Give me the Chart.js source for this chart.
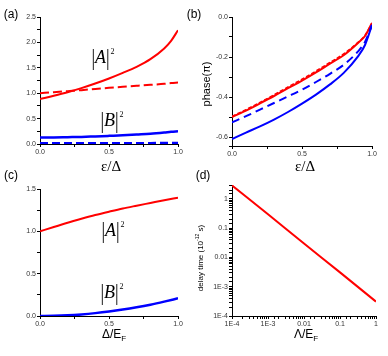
<!DOCTYPE html>
<html>
<head>
<meta charset="utf-8">
<script src="https://cdn.jsdelivr.net/npm/chart.js@4"></script>
<style>
  body { margin: 0; background: #fff; }
  #wrap { position: relative; width: 388px; height: 356px; overflow: hidden; font-family: Arial, "Liberation Sans", sans-serif; }
  canvas { position: absolute; left: 0; top: 0; }
  .t { position: absolute; white-space: nowrap; color: #000; line-height: 1; transform: translate(-50%, -50%); }
  .rot { transform: translate(-50%, -50%) rotate(-90deg); }
  .pl { font-size: 12px; }
  .serif { font-family: "Liberation Serif", "Times New Roman", serif; font-size: 15px; }
  .mod { font-family: "Liberation Serif", "Times New Roman", serif; font-size: 18px; }
  .mod .bar { display: inline-block; transform: scaleY(1.25); }
  .mod sup { font-size: 8px; vertical-align: 9px; margin-left: 1px; }
  sub { font-size: 8px; vertical-align: -3px; }
</style>
</head>
<body>
<div id="wrap">
  <canvas id="gA" width="388" height="356"></canvas>
  <canvas id="gB" width="388" height="356"></canvas>
  <canvas id="gC" width="388" height="356"></canvas>
  <canvas id="gD" width="388" height="356"></canvas>

  <div class="t pl" style="left:11px;top:14px">(a)</div>
  <div class="t pl" style="left:194px;top:14px">(b)</div>
  <div class="t pl" style="left:11px;top:175px">(c)</div>
  <div class="t pl" style="left:203px;top:175px">(d)</div>

  <div class="t serif" style="left:111px;top:166px">ε/Δ</div>
  <div class="t serif" style="left:305px;top:166px">ε/Δ</div>
  <div class="t rot" style="left:206px;top:84px;font-size:11px">phase(π)</div>
  <div class="t" style="left:114px;top:335px;font-size:12px">Δ/E<sub>F</sub></div>
  <div class="t" style="left:306px;top:335px;font-size:12px">Λ/E<sub>F</sub></div>
  <div class="t rot" style="left:200px;top:258px;font-size:8px">delay time (10<sup style="font-size:5px">-12</sup> s)</div>

  <div class="t mod" style="left:103px;top:57px"><span class="bar">|</span><i>A</i><span class="bar">|</span><sup>2</sup></div>
  <div class="t mod" style="left:112px;top:120px"><span class="bar">|</span><i>B</i><span class="bar">|</span><sup>2</sup></div>
  <div class="t mod" style="left:113px;top:230px"><span class="bar">|</span><i>A</i><span class="bar">|</span><sup>2</sup></div>
  <div class="t mod" style="left:112px;top:292px"><span class="bar">|</span><i>B</i><span class="bar">|</span><sup>2</sup></div>
</div>

<script>
// eixo ε/Δ, paineis (a) e (b)
const eps = [0, 0.1, 0.2, 0.3, 0.4, 0.5, 0.6, 0.7, 0.8, 0.9, 0.95, 1.0];

// (a) |A|^2 e |B|^2
const aA_solida = [0.886, 0.95, 1.02, 1.10, 1.19, 1.29, 1.40, 1.52, 1.67, 1.88, 2.03, 2.24];
const aA_trac = [1.00, 1.02, 1.04, 1.06, 1.085, 1.105, 1.125, 1.145, 1.165, 1.185, 1.20, 1.21];
const aB_solida = [0.13, 0.13, 0.135, 0.14, 0.15, 0.16, 0.17, 0.185, 0.20, 0.225, 0.24, 0.25];
const aB_trac = [0.012, 0.012, 0.012, 0.012, 0.012, 0.012, 0.012, 0.012, 0.012, 0.013, 0.013, 0.013];

// (b) fase (unidades de π)
const fV_solida = [-0.50, -0.468, -0.432, -0.395, -0.356, -0.318, -0.277, -0.233, -0.19, -0.13, -0.095, -0.03];
const fV_trac = [-0.497, -0.463, -0.427, -0.389, -0.350, -0.311, -0.270, -0.227, -0.183, -0.127, -0.092, -0.03];
const fA_trac = [-0.527, -0.496, -0.463, -0.43, -0.397, -0.363, -0.325, -0.284, -0.238, -0.172, -0.125, -0.04];
const fA_solida = [-0.61, -0.578, -0.547, -0.513, -0.475, -0.433, -0.388, -0.337, -0.278, -0.197, -0.14, -0.04];

// (c) |A|^2 e |B|^2 vs Δ/E_F
const delta = [0, 0.1, 0.2, 0.3, 0.4, 0.5, 0.6, 0.7, 0.8, 0.9, 1.0];
const cA = [1.0, 1.052, 1.102, 1.148, 1.192, 1.232, 1.27, 1.303, 1.335, 1.367, 1.398];
const cB = [0, 0.002, 0.008, 0.019, 0.034, 0.053, 0.076, 0.103, 0.134, 0.17, 0.209];

// (d) tempo de atraso vs Λ/E_F
const lambda = [1e-4, 1e-3, 0.01, 0.1, 1];
const atraso = [2.9, 0.30, 0.030, 0.0031, 3.1e-4];

// rotulos dos eixos log
const logValores = [1e-4, 1e-3, 0.01, 0.1, 1];
const logRotulos = ["1E-4", "1E-3", "0.01", "0.1", "1"];

const VERMELHO = "#ff0000";
const AZUL = "#0000ff";

function pontos(xs, ys) {
    return xs.map((x, i) => ({ x: x, y: ys[i] }));
}

function serie(xs, ys, cor, largura, traco) {
    return {
        data: pontos(xs, ys),
        borderColor: cor,
        borderWidth: largura,
        borderDash: traco || [],
        pointRadius: 0,
        cubicInterpolationMode: "monotone",
        fill: false,
    };
}

const fonteTick = { size: 7, family: "Arial, 'Liberation Sans', sans-serif" };

function eixoLinear(min, max, passo, cadaRotulo, casas) {
    return {
        type: "linear", min: min, max: max,
        ticks: {
            stepSize: passo, autoSkip: false, maxRotation: 0, padding: 1,
            font: fonteTick, color: "#333",
            callback: (v) => {
                const r = v / cadaRotulo;
                return Math.abs(r - Math.round(r)) < 1e-6 ? (Math.round(r) * cadaRotulo).toFixed(casas) : "";
            },
        },
        grid: { drawOnChartArea: false, drawTicks: true, tickLength: 3, color: "#000" },
        border: { color: "#000", width: 1 },
    };
}

function rotuloLog(v) {
    const i = logValores.findIndex(l => Math.abs(Math.log10(v) - Math.log10(l)) < 1e-6);
    return i >= 0 ? logRotulos[i] : "";
}

function eixoLog(min, max) {
    return {
        type: "logarithmic", min: min, max: max,
        ticks: { autoSkip: false, maxRotation: 0, padding: 1, font: fonteTick, color: "#333", callback: rotuloLog },
        grid: { drawOnChartArea: false, drawTicks: true, tickLength: 3, color: "#000" },
        border: { color: "#000", width: 1 },
    };
}

// area = bordas da area de plotagem em px da pagina
function painel(id, area, datasets, eixoX, eixoY) {
    eixoX.afterFit = (s) => { s.height = 356 - area.bottom; };
    eixoY.afterFit = (s) => { s.width = area.left; };
    new Chart(document.getElementById(id), {
        type: "line",
        data: { datasets: datasets },
        options: {
            responsive: false,
            animation: false,
            events: [],
            layout: { padding: { left: 0, top: area.top, right: 388 - area.right, bottom: 0 } },
            plugins: { legend: { display: false }, tooltip: { enabled: false } },
            scales: { x: eixoX, y: eixoY },
        },
    });
}

painel("gA", { left: 40, top: 17, right: 178, bottom: 144 }, [
    serie(eps, aA_solida, VERMELHO, 2),
    serie(eps, aA_trac, VERMELHO, 2, [9, 4]),
    serie(eps, aB_solida, AZUL, 2.5),
    serie(eps, aB_trac, AZUL, 3, [8, 4]),
], eixoLinear(0, 1, 0.25, 0.5, 1), eixoLinear(0, 2.5, 0.25, 0.5, 1));

painel("gB", { left: 232, top: 17, right: 372, bottom: 146 }, [
    serie(eps, fA_solida, AZUL, 2),
    serie(eps, fA_trac, AZUL, 2, [8, 5]),
    serie(eps, fV_solida, VERMELHO, 2),
    serie(eps, fV_trac, VERMELHO, 1.5, [4, 2]),
], eixoLinear(0, 1, 0.25, 0.5, 1), eixoLinear(-0.645, 0, 0.1, 0.2, 1));

painel("gC", { left: 40, top: 189, right: 178, bottom: 316 }, [
    serie(delta, cA, VERMELHO, 2),
    serie(delta, cB, AZUL, 2.5),
], eixoLinear(0, 1, 0.25, 0.5, 1), eixoLinear(0, 1.5, 0.25, 0.5, 1));

painel("gD", { left: 232, top: 185, right: 376, bottom: 316 }, [
    serie(lambda, atraso, VERMELHO, 2),
], eixoLog(1e-4, 1), eixoLog(1e-4, 3));
</script>
</body>
</html>
